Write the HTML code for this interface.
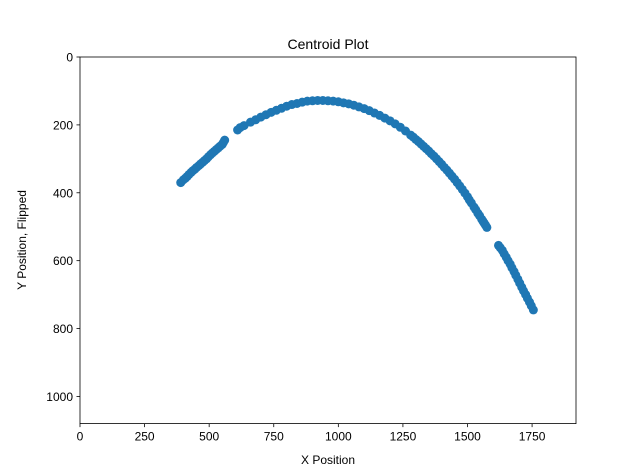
<!DOCTYPE html>
<html><head><meta charset="utf-8"><style>
body{margin:0;background:#fff;}
svg{display:block;font-family:"Liberation Sans","DejaVu Sans",sans-serif;}
</style></head><body>
<svg id="chart" width="640" height="476">
<rect x="0" y="0" width="640" height="476" fill="#fff"/>
<text x="328" y="49" text-anchor="middle" font-size="14">Centroid Plot</text>
<g id="points"></g>
<g id="axes"></g>
<text x="328" y="464" text-anchor="middle" font-size="12">X Position</text>
<text transform="translate(26,240) rotate(-90)" text-anchor="middle" font-size="12">Y Position, Flipped</text>
</svg>
<script>
const xs=[390,400,415,430,445,460,475,490,505,520,535,550,560,610,620,635,660,680,700,720,740,760,780,800,820,840,860,880,900,920,940,960,980,1000,1020,1040,1060,1080,1100,1120,1140,1160,1180,1200,1220,1240,1260,1280,1300,1320,1340,1360,1380,1400,1420,1440,1460,1480,1500,1515,1540,1555,1565,1575,1620,1635,1650,1665,1680,1695,1710,1725,1740,1755,
1390,1410,1430,1450,1470,1490,1507,1525,1532,1547,1560,1570,1627,1642,1657,1672,1687,1702,1717,1732,1747,
408,422,437,452,467,482,497,512,527,542,555,1290,1310,1330,1350,1370];
const ys=[370,362,352,340,330,320,310,300,288,278,268,258,245,215,208,202,192,185,177,170,163,157,151,145,140,137,133,130,129,128,128,129,130,132,135,138,142,147,152,158,165,172,180,188,197,207,218,230,243,256,270,285,300,316,333,351,370,390,412,430,460,478,490,502,555,570,590,610,632,655,678,700,722,745,
308,325,342,360,380,401,421,442,450,468,484,496,562,580,600,621,643,666,689,711,733,
357,346,335,325,315,305,294,283,273,263,252,236,249,263,277,292];
const xTicks=[0,250,500,750,1000,1250,1500,1750];
const yTicks=[0,200,400,600,800,1000];
const L=80,R=576,T=57,B=423.6,XMAX=1920,YMAX=1080;
const sx=v=>L+v/XMAX*(R-L);
const sy=v=>T+v/YMAX*(B-T);
const NS="http://www.w3.org/2000/svg";
const pts=document.getElementById('points');
xs.forEach((x,i)=>{
  const c=document.createElementNS(NS,'circle');
  c.setAttribute('cx',sx(x));c.setAttribute('cy',sy(ys[i]));c.setAttribute('r',4.5);
  c.setAttribute('fill','#1f77b4');
  
  
  pts.appendChild(c);
});
const ax=document.getElementById('axes');
const fr=document.createElementNS(NS,'rect');
fr.setAttribute('x',L);fr.setAttribute('y',T);fr.setAttribute('width',R-L);fr.setAttribute('height',B-T);
fr.setAttribute('fill','none');fr.setAttribute('stroke','#000');fr.setAttribute('stroke-width','0.8');


ax.appendChild(fr);
xTicks.forEach(t=>{
  const l=document.createElementNS(NS,'line');
  l.setAttribute('x1',sx(t));l.setAttribute('x2',sx(t));l.setAttribute('y1',B);l.setAttribute('y2',B+3.5);
  l.setAttribute('stroke','#000');l.setAttribute('stroke-width','0.8');
  
  
  ax.appendChild(l);
  const tx=document.createElementNS(NS,'text');
  tx.setAttribute('x',sx(t));tx.setAttribute('y',B+17);tx.setAttribute('text-anchor','middle');tx.setAttribute('font-size','12');
  tx.textContent=t;
  
  
  ax.appendChild(tx);
});
yTicks.forEach(t=>{
  const l=document.createElementNS(NS,'line');
  l.setAttribute('x1',L-3.5);l.setAttribute('x2',L);l.setAttribute('y1',sy(t));l.setAttribute('y2',sy(t));
  l.setAttribute('stroke','#000');l.setAttribute('stroke-width','0.8');
  
  
  ax.appendChild(l);
  const tx=document.createElementNS(NS,'text');
  tx.setAttribute('x',L-7);tx.setAttribute('y',sy(t)+4.5);tx.setAttribute('text-anchor','end');tx.setAttribute('font-size','12');
  tx.textContent=t;
  
  
  ax.appendChild(tx);
});
</script>
</body></html>
